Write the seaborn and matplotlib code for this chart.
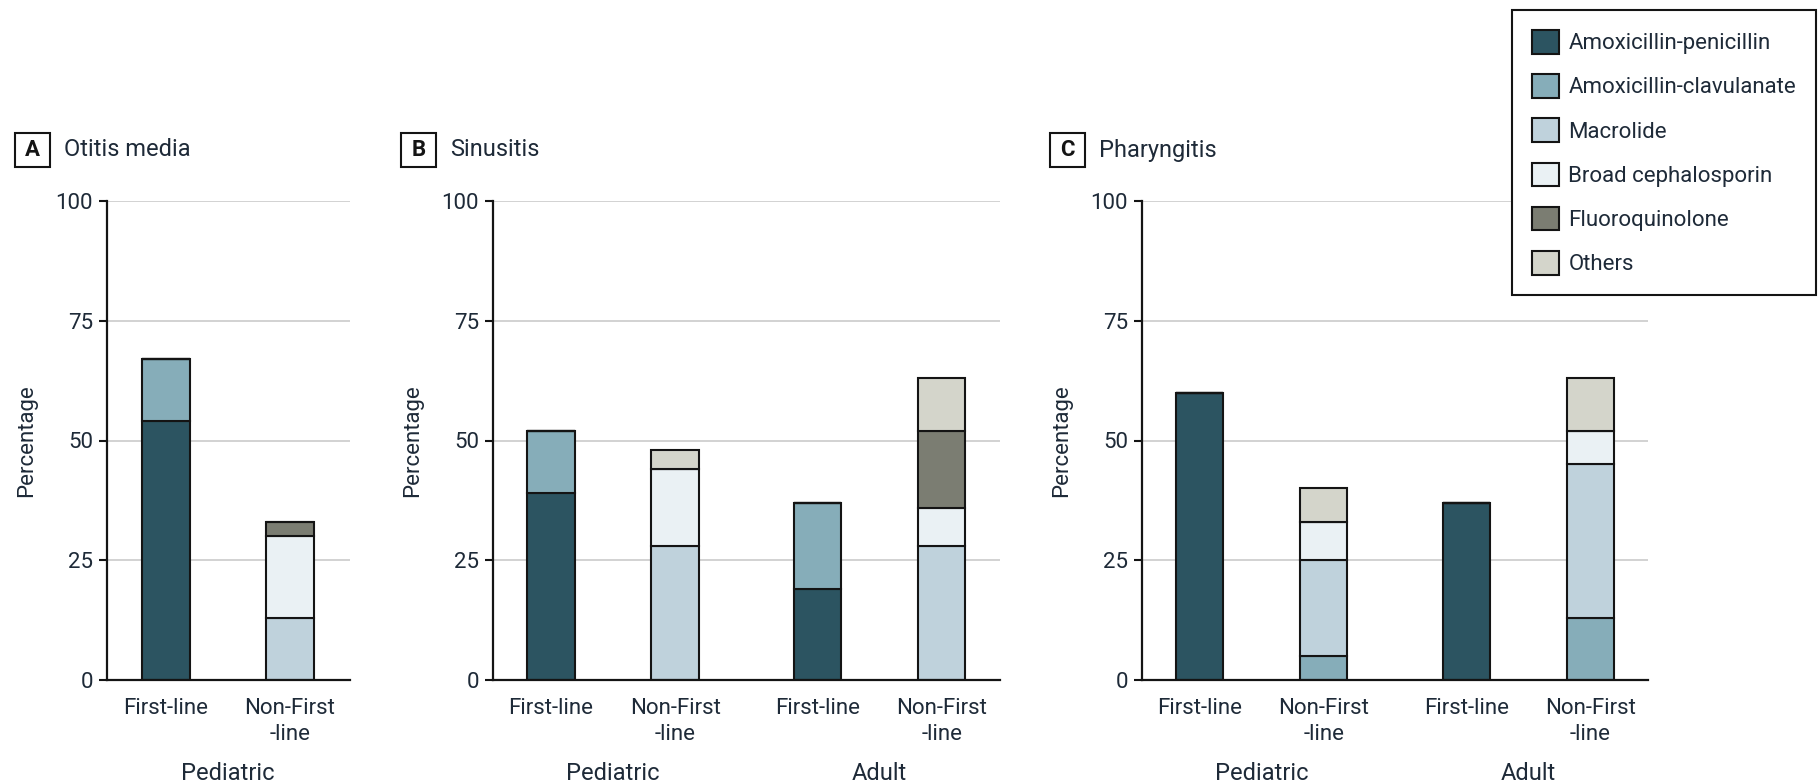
import matplotlib
matplotlib.use("Agg")
import matplotlib.pyplot as plt
from matplotlib.patches import Patch, Rectangle
import numpy as np
import pandas as pd
import seaborn as sns

# ---- data (percentage of prescriptions) ----
drug_classes = ["Amoxicillin-penicillin", "Amoxicillin-clavulanate", "Macrolide",
                "Broad cephalosporin", "Fluoroquinolone", "Others"]
drug_colors = ["#2c5461", "#86adb9", "#bfd2dc", "#eaf1f4", "#7b7d72", "#d4d5cb"]

bar_labels_one_group = ["First-line", "Non-First\n-line"]
bar_labels_two_groups = ["First-line", "Non-First\n-line", "First-line", "Non-First\n-line"]
groups_one = ["Pediatric"]
groups_two = ["Pediatric", "Adult"]

# Otitis media: Pediatric first-line, Pediatric non-first-line
otitis_amox_pen = [54, 0]
otitis_amox_clav = [13, 0]
otitis_macrolide = [0, 13]
otitis_broad_ceph = [0, 17]
otitis_fluoroquinolone = [0, 3]
otitis_others = [0, 0]

# Sinusitis: Pediatric first, Pediatric non-first, Adult first, Adult non-first
sinus_amox_pen = [39, 0, 19, 0]
sinus_amox_clav = [13, 0, 18, 0]
sinus_macrolide = [0, 28, 0, 28]
sinus_broad_ceph = [0, 16, 0, 8]
sinus_fluoroquinolone = [0, 0, 0, 16]
sinus_others = [0, 4, 0, 11]

# Pharyngitis: Pediatric first, Pediatric non-first, Adult first, Adult non-first
pharyn_amox_pen = [60, 0, 37, 0]
pharyn_amox_clav = [0, 5, 0, 13]
pharyn_macrolide = [0, 20, 0, 32]
pharyn_broad_ceph = [0, 8, 0, 7]
pharyn_fluoroquinolone = [0, 0, 0, 0]
pharyn_others = [0, 7, 0, 11]

panel_letters = ["A", "B", "C"]
panel_titles = ["Otitis media", "Sinusitis", "Pharyngitis"]
y_ticks = [0, 25, 50, 75, 100]

# ---- style ----
sns.set_theme(style="white")
plt.rcParams["font.family"] = ["Roboto", "DejaVu Sans"]
TEXT = "#1e2a38"
EDGE = "#141414"
FS = 16

W, H = 1818, 784
fig = plt.figure(figsize=(W / 100, H / 100), dpi=100)
fig.patch.set_facecolor("white")

# axes frames in pixels (left, right); shared vertical extent
frames = [(107, 350), (493, 1000), (1142, 1648)]
y_bottom_px, y_top_px = 680, 201

panels = [
    dict(series=[otitis_amox_pen, otitis_amox_clav, otitis_macrolide,
                 otitis_broad_ceph, otitis_fluoroquinolone, otitis_others],
         labels=bar_labels_one_group, groups=groups_one,
         pos=[0.0, 1.0], xlim=(-0.476, 1.484)),
    dict(series=[sinus_amox_pen, sinus_amox_clav, sinus_macrolide,
                 sinus_broad_ceph, sinus_fluoroquinolone, sinus_others],
         labels=bar_labels_two_groups, groups=groups_two,
         pos=[0.0, 1.0, 2.15, 3.15], xlim=(-0.468, 3.62)),
    dict(series=[pharyn_amox_pen, pharyn_amox_clav, pharyn_macrolide,
                 pharyn_broad_ceph, pharyn_fluoroquinolone, pharyn_others],
         labels=bar_labels_two_groups, groups=groups_two,
         pos=[0.0, 1.0, 2.15, 3.15], xlim=(-0.466, 3.615)),
]

for i, (panel, (xl, xr)) in enumerate(zip(panels, frames)):
    ax = fig.add_axes([xl / W, (H - y_bottom_px) / H, (xr - xl) / W,
                       (y_bottom_px - y_top_px) / H])
    ax.set_axisbelow(True)
    pos = np.array(panel["pos"])
    bottoms = np.zeros(len(pos))
    for name, color, vals in zip(drug_classes, drug_colors, panel["series"]):
        vals = np.array(vals, dtype=float)
        df = pd.DataFrame({"pos": pos, "pct": vals})
        sns.barplot(data=df, x="pos", y="pct", native_scale=True, bottom=bottoms.copy(),
                    color=color, saturation=1, errorbar=None, width=0.38,
                    edgecolor=EDGE, linewidth=1.5, ax=ax)
        bottoms = bottoms + vals

    ax.set_ylim(0, 100)
    ax.set_xlim(*panel["xlim"])
    ax.set_yticks(y_ticks)
    ax.set_yticklabels([str(t) for t in y_ticks], fontsize=FS, color=TEXT)
    ax.set_xticks(pos)
    ax.set_xticklabels(panel["labels"], fontsize=FS, color=TEXT, linespacing=1.28)
    ax.tick_params(axis="x", length=0, pad=13)
    ax.tick_params(axis="y", length=6, width=1.5, color=EDGE, pad=4, left=True)
    ax.yaxis.grid(True, color="#d2d2d2", linewidth=1.4)
    ax.xaxis.grid(False)
    for side in ["top", "right"]:
        ax.spines[side].set_visible(False)
    for side in ["left", "bottom"]:
        ax.spines[side].set_color(EDGE)
        ax.spines[side].set_linewidth(1.6)
    ax.set_xlabel("")
    ax.set_ylabel("Percentage", fontsize=FS, color=TEXT)
    ax.yaxis.set_label_coords(-70 / (xr - xl), 0.5)

    # group labels beneath pairs of bars
    gtrans = ax.get_xaxis_transform()
    for g, name in enumerate(panel["groups"]):
        gx = (pos[2 * g] + pos[2 * g + 1]) / 2
        ax.text(gx, -(773 - y_bottom_px) / (y_bottom_px - y_top_px), name,
                transform=gtrans, ha="center", va="center", fontsize=FS + 1, color=TEXT)

    # panel letter box and title
    box_l, box_w, box_h, box_cy = xl - 92, 35, 34, 150
    fig.patches.append(Rectangle((box_l / W, (H - box_cy - box_h / 2) / H),
                                 box_w / W, box_h / H, transform=fig.transFigure,
                                 facecolor="white", edgecolor=EDGE, linewidth=1.5))
    fig.text((box_l + box_w / 2) / W, (H - box_cy) / H, panel_letters[i],
             ha="center", va="center", fontsize=FS, fontweight="bold", color=EDGE)
    fig.text((xl - 43) / W, (H - box_cy) / H, panel_titles[i],
             ha="left", va="center", fontsize=FS + 1, color=TEXT)

handles = [Patch(facecolor=c, edgecolor=EDGE, linewidth=1.5, label=n)
           for n, c in zip(drug_classes, drug_colors)]
leg = fig.legend(handles=handles, loc="upper right",
                 bbox_to_anchor=(1816 / W, 1 - 10 / H), bbox_transform=fig.transFigure,
                 frameon=True, fancybox=False, framealpha=1, fontsize=FS,
                 handlelength=1.25, handleheight=1.25, labelspacing=0.9,
                 handletextpad=0.4, borderpad=0.9, borderaxespad=0)
leg.get_frame().set_edgecolor(EDGE)
leg.get_frame().set_linewidth(1.5)
for t in leg.get_texts():
    t.set_color(TEXT)

fig.savefig("out.png", dpi=100, facecolor="white")
